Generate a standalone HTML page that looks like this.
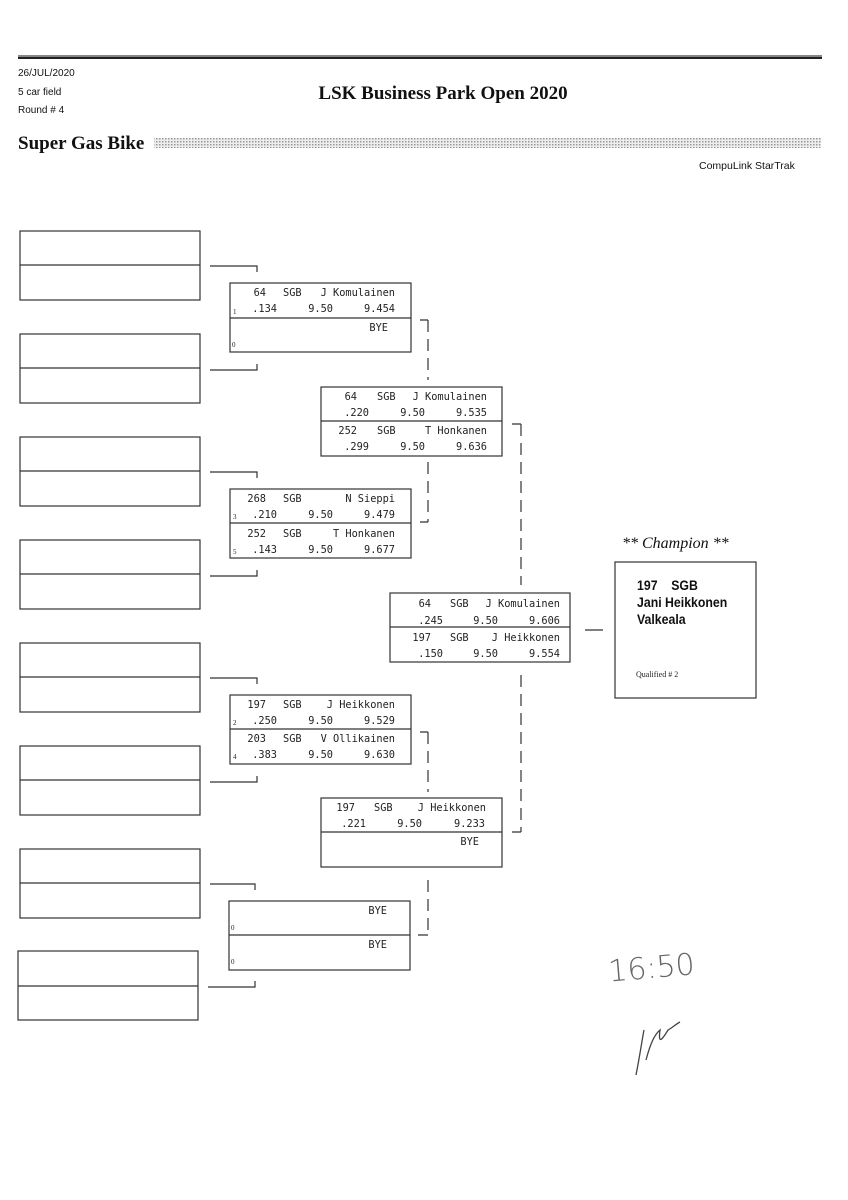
<!DOCTYPE html>
<html><head><meta charset="utf-8"><style>
body{margin:0;background:#fff}
svg{display:block}
.m{font-family:"DejaVu Sans Mono","Liberation Mono",monospace;font-size:10.3px;fill:#222}
.s{font-family:"Liberation Serif",serif;font-size:7px;fill:#222}
</style></head><body>
<svg width="848" height="1200" viewBox="0 0 848 1200" xmlns="http://www.w3.org/2000/svg">
<defs><pattern id="dots" width="3" height="3" patternUnits="userSpaceOnUse"><rect width="3" height="3" fill="#eee"/><rect width="1.5" height="1.5" fill="#999"/></pattern></defs>
<rect x="18" y="55" width="804" height="2" fill="#888"/>
<rect x="18" y="57" width="804" height="2" fill="#222"/>
<g font-family="Liberation Sans Narrow,Liberation Sans,sans-serif" font-size="10" fill="#111">
<text x="18" y="76">26/JUL/2020</text><text x="18" y="95">5 car field</text><text x="18" y="113">Round # 4</text>
<text x="699" y="169" font-size="10.5">CompuLink StarTrak</text></g>
<text x="443" y="99" text-anchor="middle" font-family="Liberation Serif,serif" font-weight="bold" font-size="19" fill="#111">LSK Business Park Open 2020</text>
<text x="18" y="149" font-family="Liberation Serif,serif" font-weight="bold" font-size="19" fill="#111">Super Gas Bike</text>
<rect x="154" y="138" width="667" height="10" fill="url(#dots)"/>
<g fill="none" stroke="#333" stroke-width="1.2">
<rect x="20" y="231" width="180" height="69"/><line x1="20" y1="265" x2="200" y2="265"/>
<rect x="20" y="334" width="180" height="69"/><line x1="20" y1="368" x2="200" y2="368"/>
<rect x="20" y="437" width="180" height="69"/><line x1="20" y1="471" x2="200" y2="471"/>
<rect x="20" y="540" width="180" height="69"/><line x1="20" y1="574" x2="200" y2="574"/>
<rect x="20" y="643" width="180" height="69"/><line x1="20" y1="677" x2="200" y2="677"/>
<rect x="20" y="746" width="180" height="69"/><line x1="20" y1="780" x2="200" y2="780"/>
<rect x="20" y="849" width="180" height="69"/><line x1="20" y1="883" x2="200" y2="883"/>
<rect x="18" y="951" width="180" height="69"/><line x1="18" y1="986" x2="198" y2="986"/>
<path d="M210 266H257V272M210 370H257V364M210 472H257V478M210 576H257V570M210 678H257V684M210 782H257V776M210 884H255V890M208 987H255V981"/>
<rect x="230" y="283" width="181" height="69"/><line x1="230" y1="318" x2="411" y2="318"/>
<rect x="230" y="489" width="181" height="69"/><line x1="230" y1="523" x2="411" y2="523"/>
<rect x="230" y="695" width="181" height="69"/><line x1="230" y1="729" x2="411" y2="729"/>
<rect x="229" y="901" width="181" height="69"/><line x1="229" y1="935" x2="410" y2="935"/>
<rect x="321" y="387" width="181" height="69"/><line x1="321" y1="421" x2="502" y2="421"/>
<rect x="321" y="798" width="181" height="69"/><line x1="321" y1="832" x2="502" y2="832"/>
<rect x="390" y="593" width="180" height="69"/><line x1="390" y1="627" x2="570" y2="627"/>
<rect x="615" y="562" width="141" height="136"/>
<path d="M420 320H428M420 522H428M512 424H521M512 832H521M420 732H428M418 935H428M585 630H603"/>
<g stroke-dasharray="12,7"><path d="M428 320V380M428 462V522M521 424V585M521 675V832M428 732V792M428 880V935"/></g>
</g>
<g class="m">
<text x="266" y="296" text-anchor="end">64</text><text x="283" y="296">SGB</text><text x="395" y="296" text-anchor="end">J Komulainen</text>
<text x="277" y="312" text-anchor="end">.134</text><text x="333" y="312" text-anchor="end">9.50</text><text x="395" y="312" text-anchor="end">9.454</text>
<text x="388" y="331" text-anchor="end">BYE</text>
<text x="266" y="502" text-anchor="end">268</text><text x="283" y="502">SGB</text><text x="395" y="502" text-anchor="end">N Sieppi</text>
<text x="277" y="518" text-anchor="end">.210</text><text x="333" y="518" text-anchor="end">9.50</text><text x="395" y="518" text-anchor="end">9.479</text>
<text x="266" y="537" text-anchor="end">252</text><text x="283" y="537">SGB</text><text x="395" y="537" text-anchor="end">T Honkanen</text>
<text x="277" y="553" text-anchor="end">.143</text><text x="333" y="553" text-anchor="end">9.50</text><text x="395" y="553" text-anchor="end">9.677</text>
<text x="266" y="708" text-anchor="end">197</text><text x="283" y="708">SGB</text><text x="395" y="708" text-anchor="end">J Heikkonen</text>
<text x="277" y="724" text-anchor="end">.250</text><text x="333" y="724" text-anchor="end">9.50</text><text x="395" y="724" text-anchor="end">9.529</text>
<text x="266" y="742" text-anchor="end">203</text><text x="283" y="742">SGB</text><text x="395" y="742" text-anchor="end">V Ollikainen</text>
<text x="277" y="758" text-anchor="end">.383</text><text x="333" y="758" text-anchor="end">9.50</text><text x="395" y="758" text-anchor="end">9.630</text>
<text x="387" y="914" text-anchor="end">BYE</text><text x="387" y="948" text-anchor="end">BYE</text>
<text x="357" y="400" text-anchor="end">64</text><text x="377" y="400">SGB</text><text x="487" y="400" text-anchor="end">J Komulainen</text>
<text x="369" y="416" text-anchor="end">.220</text><text x="425" y="416" text-anchor="end">9.50</text><text x="487" y="416" text-anchor="end">9.535</text>
<text x="357" y="434" text-anchor="end">252</text><text x="377" y="434">SGB</text><text x="487" y="434" text-anchor="end">T Honkanen</text>
<text x="369" y="450" text-anchor="end">.299</text><text x="425" y="450" text-anchor="end">9.50</text><text x="487" y="450" text-anchor="end">9.636</text>
<text x="355" y="811" text-anchor="end">197</text><text x="374" y="811">SGB</text><text x="486" y="811" text-anchor="end">J Heikkonen</text>
<text x="366" y="827" text-anchor="end">.221</text><text x="422" y="827" text-anchor="end">9.50</text><text x="485" y="827" text-anchor="end">9.233</text>
<text x="479" y="845" text-anchor="end">BYE</text>
<text x="431" y="607" text-anchor="end">64</text><text x="450" y="607">SGB</text><text x="560" y="607" text-anchor="end">J Komulainen</text>
<text x="443" y="624" text-anchor="end">.245</text><text x="498" y="624" text-anchor="end">9.50</text><text x="560" y="624" text-anchor="end">9.606</text>
<text x="431" y="641" text-anchor="end">197</text><text x="450" y="641">SGB</text><text x="560" y="641" text-anchor="end">J Heikkonen</text>
<text x="443" y="657" text-anchor="end">.150</text><text x="498" y="657" text-anchor="end">9.50</text><text x="560" y="657" text-anchor="end">9.554</text>
</g>
<g class="s">
<text x="233" y="314">1</text><text x="232" y="347">0</text><text x="233" y="519">3</text><text x="233" y="554">5</text>
<text x="233" y="725">2</text><text x="233" y="759">4</text><text x="231" y="930">0</text><text x="231" y="964">0</text>
<text x="636" y="677" font-size="8">Qualified # 2</text>
</g>
<text x="622" y="548" font-family="Liberation Serif,serif" font-style="italic" font-size="16" fill="#111">** Champion **</text>
<g font-family="Liberation Sans Narrow,Liberation Sans,sans-serif" font-weight="bold" font-size="14" fill="#111" transform="translate(637 0) scale(0.88 1)">
<text x="0" y="590">197&#160;&#160;&#160;&#160;SGB</text><text x="0" y="607">Jani Heikkonen</text><text x="0" y="624">Valkeala</text></g>
<text x="608" y="978" font-family="DejaVu Sans,sans-serif" font-size="30" font-weight="200" fill="#666" transform="rotate(-5 650 965)">16:50</text>
<path d="M636 1075C640 1055 642 1040 644 1030M646 1060C650 1045 654 1035 660 1030C658 1045 662 1040 668 1030C672 1028 676 1024 680 1022" fill="none" stroke="#444" stroke-width="1.3"/>
</svg>
</body></html>
